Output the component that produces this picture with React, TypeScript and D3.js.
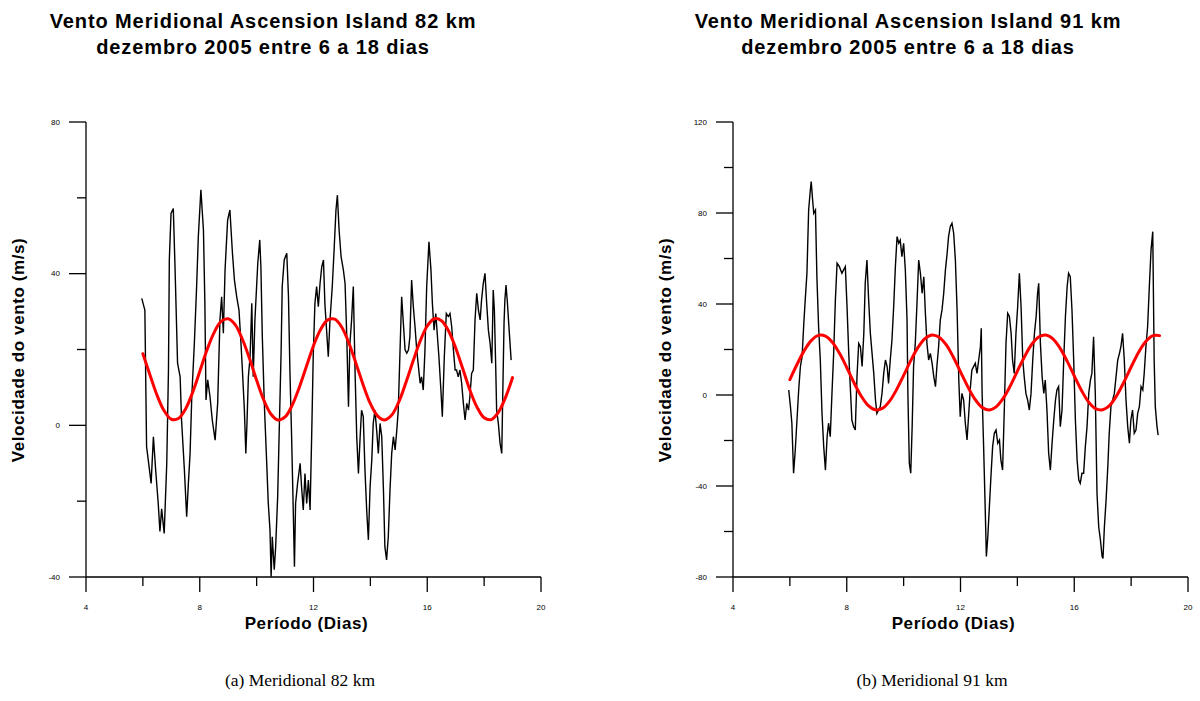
import React from 'react';
import * as d3 from 'd3';

// ---------- data ----------
const leftSeries: [number, number][] = [
  [5.96,33.5],[6.07,30.4],[6.13,-5.6],[6.22,-11],[6.29,-15.3],[6.37,-3],[6.45,-11.8],[6.54,-20.6],[6.60,-28],[6.66,-22],
  [6.75,-28.5],[6.84,-10],[6.90,14.6],[6.93,43.6],[6.99,55.9],[7.07,57.2],[7.13,41.8],[7.22,16.4],[7.31,12.8],[7.36,1.4],
  [7.46,-11.8],[7.54,-24.1],[7.60,-15.3],[7.66,-7.4],[7.72,7.6],[7.81,21.6],[7.89,36.6],[7.95,49.8],[8.04,62.1],[8.13,51.5],
  [8.18,32.2],[8.22,6.7],[8.28,12],[8.36,7.6],[8.44,1.4],[8.54,-3.9],[8.63,5.8],[8.71,27.8],[8.77,33.9],[8.83,24.3],
  [8.89,41],[8.98,54.1],[9.06,56.8],[9.15,45.4],[9.22,38.3],[9.30,33.9],[9.38,30.4],[9.45,21.6],[9.50,14.6],[9.57,4.0],
  [9.62,-7.4],[9.66,0.5],[9.71,12.8],[9.77,18.1],[9.83,32.2],[9.88,12.8],[9.94,27.8],[10.04,42.7],[10.11,48.9],[10.15,41.8],
  [10.20,23.4],[10.27,5.8],[10.35,-9.1],[10.41,-20.6],[10.47,-27.6],[10.51,-39.9],[10.55,-29.4],[10.62,-38.1],[10.67,-32],[10.74,-18.8],
  [10.79,-3],[10.86,19],[10.90,36.6],[10.97,43.6],[11.06,45.4],[11.12,33.9],[11.17,14.6],[11.23,-3],[11.28,-19.7],[11.33,-37.3],
  [11.37,-20.6],[11.44,-15.3],[11.53,-10],[11.58,-16.2],[11.64,-22.3],[11.70,-12.7],[11.76,-20.6],[11.82,-14.4],[11.88,-22.3],[11.94,-1.2],
  [11.99,18.1],[12.05,32.2],[12.11,36.6],[12.17,31.3],[12.23,37.4],[12.29,41.8],[12.35,43.6],[12.40,32.2],[12.46,25.1],[12.52,18.1],
  [12.58,27.8],[12.66,36.6],[12.73,47.1],[12.79,56.8],[12.84,60.7],[12.90,51.5],[12.97,44.5],[13.05,41],[13.11,37.4],[13.17,23.4],
  [13.23,4.9],[13.28,21.6],[13.34,27.8],[13.40,36.6],[13.46,14.6],[13.52,-3],[13.58,-12.7],[13.64,-3],[13.69,4.0],[13.75,2.3],
  [13.81,-11.8],[13.87,-22.3],[13.93,-30.2],[13.99,-16.2],[14.05,-9.1],[14.10,0.5],[14.16,4.0],[14.22,-1.2],[14.28,-7.4],[14.34,0.5],
  [14.40,-3],[14.46,-17.1],[14.51,-32],[14.57,-35.5],[14.63,-29.4],[14.69,-17.1],[14.75,-7.4],[14.81,-3],[14.87,-6.5],[14.93,-1.2],
  [14.98,4.0],[15.04,19],[15.10,33.9],[15.16,26.9],[15.22,19.9],[15.28,19],[15.34,19.9],[15.39,23.4],[15.45,38.3],[15.51,31.3],
  [15.57,26],[15.63,19.9],[15.69,15.5],[15.75,11.1],[15.80,12.8],[15.86,9.3],[15.92,19.9],[15.98,36.6],[16.06,48.4],[16.13,41],
  [16.18,32.2],[16.24,25.1],[16.30,29.5],[16.35,24.3],[16.41,18.1],[16.48,9.3],[16.53,2.3],[16.60,18.1],[16.67,29.5],[16.74,28.7],
  [16.80,29.5],[16.86,26],[16.92,19.9],[16.98,14.6],[17.03,14.6],[17.09,12.8],[17.15,14.6],[17.21,11.1],[17.27,5.8],[17.33,1.4],
  [17.39,5.8],[17.45,4.0],[17.50,7.6],[17.56,13.7],[17.62,14.6],[17.68,27.8],[17.74,34.8],[17.80,30.4],[17.86,27.8],[17.91,33.1],
  [17.97,37.4],[18.03,40.1],[18.09,32.2],[18.15,25.1],[18.21,21.6],[18.27,16.4],[18.32,35.7],[18.36,30.4],[18.41,14.6],[18.44,4.0],
  [18.50,0.5],[18.56,-4.7],[18.62,-7.4],[18.65,5.8],[18.70,26.9],[18.73,33.1],[18.77,37],[18.82,32.2],[18.88,25.1],[18.95,17.2]
];

const rightSeries: [number, number][] = [
  [5.96,2.2],[6.02,-5.1],[6.07,-12.4],[6.13,-34.4],[6.19,-24.2],[6.25,-11],[6.31,2.2],[6.37,12.5],[6.43,16.9],[6.49,31.5],
  [6.54,41.8],[6.60,53.5],[6.66,81.3],[6.72,90.1],[6.75,93.8],[6.80,85.7],[6.84,79.9],[6.90,81.3],[6.95,52],[7.01,30],
  [7.07,15.4],[7.13,-8.1],[7.19,-22.7],[7.25,-33],[7.31,-18.3],[7.36,-12.4],[7.42,-18.3],[7.48,0.7],[7.54,18.3],[7.60,41.8],
  [7.66,57.9],[7.74,56.4],[7.83,53.5],[7.89,55],[7.95,56.4],[8.01,38.8],[8.07,18.3],[8.13,2.2],[8.18,-11],[8.24,-13.9],
  [8.30,-15.4],[8.36,8.1],[8.42,22.7],[8.48,21.2],[8.54,12.5],[8.60,27.1],[8.65,49.1],[8.71,59.3],[8.77,41.8],[8.83,27.1],
  [8.89,18.3],[8.95,9.5],[9.01,-2.2],[9.06,-8.1],[9.12,-6.6],[9.18,-5.1],[9.24,0.7],[9.30,9.5],[9.36,15.4],[9.42,12.5],
  [9.47,5.1],[9.53,15.4],[9.59,24.2],[9.65,38.8],[9.71,56.4],[9.77,69.6],[9.83,66.7],[9.88,68.1],[9.94,60.8],[10.00,66.7],
  [10.06,55],[10.12,33],[10.15,0.7],[10.20,-30],[10.25,-34.4],[10.30,-13.9],[10.35,12.5],[10.41,22.7],[10.47,40.3],[10.53,59.3],
  [10.59,53.5],[10.65,44.7],[10.71,52],[10.76,37.4],[10.82,22.7],[10.88,15.4],[10.94,18.3],[11.00,14],[11.06,8.1],[11.12,3.7],
  [11.17,12.5],[11.23,21.2],[11.29,33],[11.35,37.4],[11.41,44.7],[11.47,55],[11.53,62.3],[11.58,69.6],[11.64,74],[11.70,75.5],
  [11.76,71.1],[11.82,59.3],[11.88,37.4],[11.94,6.6],[11.99,-9.5],[12.05,0.7],[12.11,-2.2],[12.17,-12.4],[12.23,-19.8],[12.29,-8.1],
  [12.35,3.7],[12.40,11],[12.46,12.5],[12.52,14],[12.58,9.5],[12.64,15.4],[12.70,21.2],[12.73,29.3],[12.76,0.7],[12.81,-21.2],
  [12.87,-50.5],[12.91,-71],[12.96,-62.3],[13.01,-50.5],[13.07,-35.9],[13.13,-22.7],[13.19,-16.8],[13.25,-15.4],[13.31,-21.2],[13.37,-19.8],
  [13.42,-28.6],[13.48,-33],[13.54,-6.6],[13.60,22.7],[13.66,35.9],[13.72,34.5],[13.78,27.1],[13.83,15.4],[13.89,9.5],[13.95,27.1],
  [14.01,38.8],[14.07,53.5],[14.13,38.8],[14.19,15.4],[14.24,8.1],[14.30,0.7],[14.36,-2.2],[14.42,-6.6],[14.48,0.7],[14.54,15.4],
  [14.60,27.1],[14.66,34.5],[14.71,44.7],[14.75,49.1],[14.81,22.7],[14.87,8.1],[14.93,0.7],[14.98,6.6],[15.04,-6.6],[15.10,-25.6],
  [15.16,-33],[15.22,-21.2],[15.28,-11],[15.34,-2.2],[15.39,2.2],[15.45,3.7],[15.51,-13.9],[15.57,-6.6],[15.63,15.4],[15.69,34.5],
  [15.75,47.6],[15.80,53.5],[15.86,52],[15.92,37.4],[15.98,15.4],[16.04,-11],[16.10,-28.6],[16.16,-37.4],[16.21,-38.8],[16.27,-34.4],
  [16.33,-34.4],[16.39,-22.7],[16.45,-13.9],[16.51,0.7],[16.57,6.6],[16.62,9.5],[16.68,25.6],[16.74,0.7],[16.80,-43.2],[16.86,-57.9],
  [16.92,-63.7],[16.98,-71],[17.01,-71.8],[17.06,-57.9],[17.12,-46.1],[17.18,-31.5],[17.23,-16.8],[17.29,-5.1],[17.35,-2.2],[17.41,0.7],
  [17.47,8.1],[17.53,15.4],[17.59,18.3],[17.64,21.2],[17.70,27.1],[17.76,15.4],[17.82,-2.2],[17.88,-13.9],[17.94,-21.2],[17.99,-11],
  [18.05,-6.6],[18.11,-16.8],[18.17,-15.4],[18.23,-8.1],[18.29,-5.1],[18.35,3.7],[18.41,2.2],[18.46,9.5],[18.52,21.2],[18.58,30],
  [18.64,47.6],[18.70,63.7],[18.76,71.8],[18.81,15.4],[18.85,-5.1],[18.91,-13.9],[18.95,-17.6]
];

const fitDays = [
  6, 6.25, 6.5, 6.75, 7, 7.25, 7.5, 7.75, 8, 8.25, 8.5, 8.75, 9, 9.25, 9.5, 9.75, 10, 10.25, 10.5, 10.75,
  11, 11.25, 11.5, 11.75, 12, 12.25, 12.5, 12.75, 13, 13.25, 13.5, 13.75, 14, 14.25, 14.5, 14.75, 15, 15.25,
  15.5, 15.75, 16, 16.25, 16.5, 16.75, 17, 17.25, 17.5, 17.75, 18, 18.25, 18.5, 18.75, 19
];
const leftFit = [
  18.9, 13.3, 7.9, 3.8, 1.6, 1.8, 4.3, 8.7, 14.2, 19.8, 24.4, 27.4, 28.1, 26.5, 22.7, 17.6, 11.9, 6.7, 3.0, 1.4,
  2.2, 5.3, 10.0, 15.5, 21.0, 25.3, 27.8, 28.0, 25.8, 21.6, 16.2, 10.6, 5.7, 2.5, 1.4, 2.7, 6.2, 11.3,
  16.9, 22.2, 26.2, 28.1, 27.6, 24.9, 20.4, 14.9, 9.3, 4.8, 2.0, 1.5, 3.4, 7.3, 12.6
];
const rightFit = [
  6.8, 13.4, 19.4, 23.9, 26.2, 25.9, 23.1, 18.2, 12.1, 5.5, -0.3, -4.6, -6.5, -5.9, -2.8, 2.3, 8.6, 15.1, 20.8, 24.8,
  26.4, 25.4, 22.0, 16.6, 10.2, 3.8, -1.7, -5.4, -6.6, -5.2, -1.5, 4.0, 10.5, 16.8, 22.2, 25.5, 26.4, 24.7,
  20.6, 14.9, 8.4, 2.1, -3.0, -6.0, -6.5, -4.5, -0.1, 5.8, 12.3, 18.5, 23.3, 26.0, 26.1
];

const xMajorTicks = [4, 8, 12, 16, 20];
const xMinorTicks = [6, 10, 14, 18];
const leftYMajor = [-40, 0, 40, 80];
const leftYMinor = [-20, 20, 60];
const rightYMajor = [-80, -40, 0, 40, 80, 120];
const rightYMinor = [-60, -20, 20, 60, 100];

const titleLine2 = 'dezembro 2005 entre 6 a 18 dias';
const xTitle = 'Período (Dias)';
const yTitle = 'Velocidade do vento (m/s)';

// ---------- layout ----------
const W = 1200;
const H = 701;
const PLOT_W = 455;
const Y_TOP = 122;
const Y_BOT = 577;
const SANS = '"Liberation Sans", Arial, sans-serif';
const SERIF = '"Liberation Serif", "Times New Roman", serif';

type PanelProps = {
  x0: number;
  yDomain: [number, number];
  yMajor: number[];
  yMinor: number[];
  series: [number, number][];
  fit: number[];
  title1: string;
  caption: string;
  titleCx: number;
  captionCx: number;
};

function Panel(p: PanelProps) {
  const x = d3.scaleLinear().domain([4, 20]).range([p.x0, p.x0 + PLOT_W]);
  const y = d3.scaleLinear().domain(p.yDomain).range([Y_BOT, Y_TOP]);
  const line = d3
    .line<[number, number]>()
    .x((d) => x(d[0]))
    .y((d) => y(d[1]));
  const fitLine = d3
    .line<number>()
    .x((_, i) => x(fitDays[i]))
    .y((d) => y(d))
    .curve(d3.curveCatmullRom);
  const ax = p.x0;
  const plotCx = p.x0 + PLOT_W / 2 - 7;
  return (
    <g>
      <text x={p.titleCx} y={28} textAnchor="middle" fontFamily={SANS} fontWeight="bold" fontSize={20} letterSpacing={0.9} fill="#000">
        {p.title1}
      </text>
      <text x={p.titleCx} y={54} textAnchor="middle" fontFamily={SANS} fontWeight="bold" fontSize={20} letterSpacing={0.9} fill="#000">
        {titleLine2}
      </text>

      {/* axes */}
      <line x1={ax} x2={ax} y1={Y_TOP} y2={Y_BOT} stroke="#000" strokeWidth={1.3} />
      <line x1={ax} x2={ax + PLOT_W} y1={Y_BOT} y2={Y_BOT} stroke="#000" strokeWidth={1.3} />
      {p.yMajor.map((v) => (
        <g key={'ym' + v}>
          <line x1={ax - 17} x2={ax} y1={y(v)} y2={y(v)} stroke="#000" strokeWidth={1.3} />
          <text x={ax - 26} y={y(v)} dy="0.35em" textAnchor="end" fontFamily={SANS} fontSize={8} fill="#000">
            {v}
          </text>
        </g>
      ))}
      {p.yMinor.map((v) => (
        <line key={'yn' + v} x1={ax - 9} x2={ax} y1={y(v)} y2={y(v)} stroke="#000" strokeWidth={1.3} />
      ))}
      {xMajorTicks.map((v) => (
        <g key={'xm' + v}>
          <line x1={x(v)} x2={x(v)} y1={Y_BOT} y2={Y_BOT + 15} stroke="#000" strokeWidth={1.3} />
          <text x={x(v)} y={Y_BOT + 30} dy="0.35em" textAnchor="middle" fontFamily={SANS} fontSize={8} fill="#000">
            {v}
          </text>
        </g>
      ))}
      {xMinorTicks.map((v) => (
        <line key={'xn' + v} x1={x(v)} x2={x(v)} y1={Y_BOT} y2={Y_BOT + 9} stroke="#000" strokeWidth={1.3} />
      ))}

      {/* data */}
      <path d={line(p.series) || ''} fill="none" stroke="#000" strokeWidth={1.4} strokeLinejoin="miter" />
      <path d={fitLine(p.fit) || ''} fill="none" stroke="#ff0000" strokeWidth={3} strokeLinejoin="round" strokeLinecap="round" />

      {/* axis titles */}
      <text x={plotCx} y={623} dy="0.35em" textAnchor="middle" fontFamily={SANS} fontWeight="bold" fontSize={17} letterSpacing={0.6} fill="#000">
        {xTitle}
      </text>
      <text
        transform={`translate(${ax - 68},350) rotate(-90)`}
        dy="0.35em"
        textAnchor="middle"
        fontFamily={SANS}
        fontWeight="bold"
        fontSize={17}
        letterSpacing={0.6}
        fill="#000"
      >
        {yTitle}
      </text>

      {/* caption */}
      <text x={p.captionCx} y={686} textAnchor="middle" fontFamily={SERIF} fontSize={17.5} fill="#000">
        {p.caption}
      </text>
    </g>
  );
}

export default function App() {
  return (
    <svg width={W} height={H} viewBox={`0 0 ${W} ${H}`} style={{ position: 'absolute', left: 0, top: 0, background: '#fff' }}>
      <rect x={0} y={0} width={W} height={H} fill="#fff" />
      <Panel
        x0={86}
        yDomain={[-40, 80]}
        yMajor={leftYMajor}
        yMinor={leftYMinor}
        series={leftSeries}
        fit={leftFit}
        title1="Vento Meridional Ascension Island 82 km"
        caption="(a) Meridional 82 km"
        titleCx={263}
        captionCx={300}
      />
      <Panel
        x0={733}
        yDomain={[-80, 120]}
        yMajor={rightYMajor}
        yMinor={rightYMinor}
        series={rightSeries}
        fit={rightFit}
        title1="Vento Meridional Ascension Island 91 km"
        caption="(b) Meridional 91 km"
        titleCx={908}
        captionCx={932}
      />
    </svg>
  );
}
